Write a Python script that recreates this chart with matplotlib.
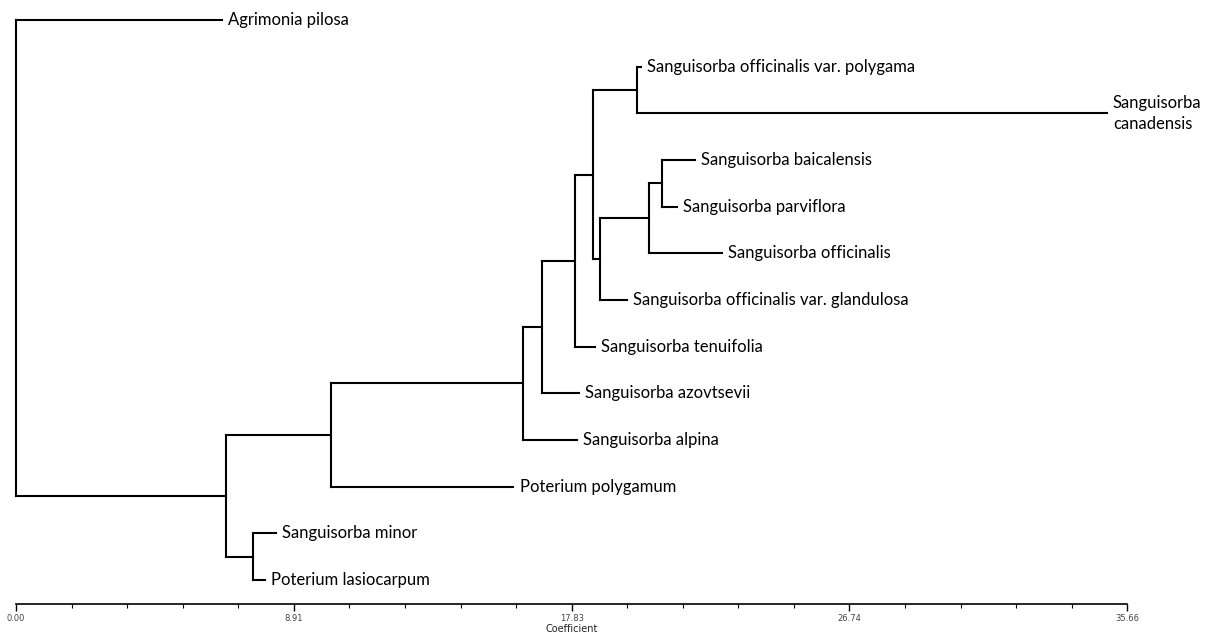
import matplotlib

matplotlib.use("Agg")
import matplotlib.pyplot as plt
from matplotlib.ticker import MultipleLocator

# --- dados do dendrograma (coeficiente acumulado) ---
leaf_names = [
    "Agrimonia pilosa",
    "Sanguisorba officinalis var. polygama",
    "Sanguisorba\ncanadensis",
    "Sanguisorba baicalensis",
    "Sanguisorba parviflora",
    "Sanguisorba officinalis",
    "Sanguisorba officinalis var. glandulosa",
    "Sanguisorba tenuifolia",
    "Sanguisorba azovtsevii",
    "Sanguisorba alpina",
    "Poterium polygamum",
    "Sanguisorba minor",
    "Poterium lasiocarpum",
]
leaf_tips = [6.60, 20.06, 35.00, 21.79, 21.20, 22.65, 19.60, 18.58, 18.07, 17.99, 15.96, 8.34, 7.99]

# nós internos (índices 13..24): filhos esquerdo/direito e posição
node_left = [1, 3, 14, 15, 13, 17, 18, 19, 20, 11, 21, 0]
node_right = [2, 4, 5, 6, 16, 7, 8, 9, 10, 12, 22, 23]
node_heights = [19.92, 20.72, 20.31, 18.74, 18.50, 17.94, 16.87, 16.28, 10.10, 7.60, 6.74, 0.00]

tick_values = [0.00, 8.915, 17.83, 26.745, 35.66]
tick_labels = ["0.00", "8.91", "17.83", "26.74", "35.66"]

xs = list(leaf_tips) + list(node_heights)
ys = [float(i) for i in range(len(leaf_names))]
for a, b in zip(node_left, node_right):
    ys.append((ys[a] + ys[b]) / 2)

fig = plt.figure(figsize=(12.05, 6.32), dpi=100)
ax = fig.add_axes([16 / 1205, 28 / 632, 1111.3 / 1205, 584 / 632])

line_kw = dict(color="black", lw=1.5, solid_capstyle="projecting", clip_on=False)
n_leaves = len(leaf_names)
for k, (a, b) in enumerate(zip(node_left, node_right)):
    node = n_leaves + k
    xn = xs[node]
    ax.plot([xn, xn], [ys[a], ys[b]], **line_kw)
    for child in (a, b):
        ax.plot([xn, xs[child]], [ys[child], ys[child]], **line_kw)

for i, name in enumerate(leaf_names):
    ax.annotate(
        name,
        xy=(xs[i], ys[i]),
        xytext=(4.5, 0),
        textcoords="offset points",
        va="center",
        ha="left",
        fontsize=12,
        family="Lato",
        color="black",
        linespacing=1.4,
        annotation_clip=False,
    )

ax.set_xlim(0, 35.66)
ax.set_ylim(12.514, 0)
for side in ("top", "right", "left"):
    ax.spines[side].set_visible(False)
ax.spines["bottom"].set_linewidth(1.2)
ax.set_yticks([])
ax.set_xticks(tick_values)
ax.set_xticklabels(tick_labels)
ax.xaxis.set_minor_locator(MultipleLocator(35.66 / 20))
ax.tick_params(axis="x", which="major", length=5, width=1, pad=2, labelsize=6, labelcolor="#444444")
ax.tick_params(axis="x", which="minor", length=3, width=0.8)
ax.set_xlabel("Coefficient", fontsize=7, labelpad=1, color="#222222")

plt.savefig("out.png", dpi=100)
plt.close()
